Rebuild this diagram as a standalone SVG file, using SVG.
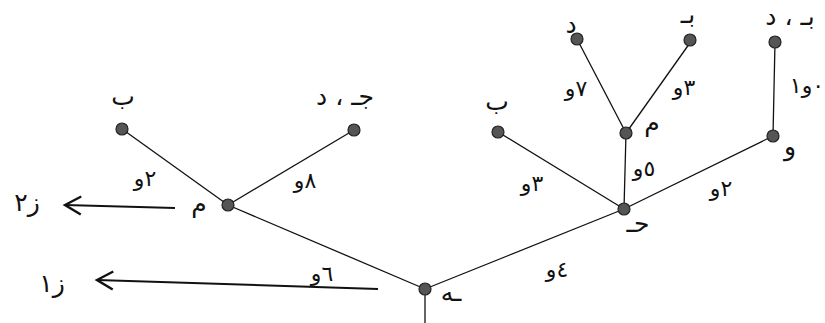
<svg xmlns="http://www.w3.org/2000/svg" width="825" height="323" viewBox="0 0 825 323">
<defs>
<style>
.e{stroke:#111;stroke-width:1.3;fill:none}
.a{stroke:#111;stroke-width:2;fill:none}
.n{fill:#555;stroke:#222;stroke-width:1.2}
text{font-family:"DejaVu Sans",sans-serif;fill:#111;text-anchor:middle}
.t{font-size:25px}
.w{font-size:22px}
</style>
<marker id="ah" markerUnits="userSpaceOnUse" markerWidth="24" markerHeight="24" refX="0" refY="0" viewBox="-16 -12 20 24" orient="auto">
<path d="M-16,-9 L0,0 L-16,9" stroke="#111" stroke-width="2.4" fill="none"/>
</marker>
</defs>
<rect width="825" height="323" fill="#fff"/>
<g id="connectors">
<line class="e" x1="425" y1="289" x2="425" y2="323"/>
<line class="e" x1="425" y1="289" x2="228" y2="205"/>
<line class="e" x1="228" y1="205" x2="122" y2="129"/>
<line class="e" x1="228" y1="205" x2="354" y2="130"/>
<line class="e" x1="425" y1="289" x2="624" y2="209"/>
<line class="e" x1="624" y1="209" x2="498" y2="132"/>
<line class="e" x1="624" y1="209" x2="626" y2="133"/>
<line class="e" x1="624" y1="209" x2="773" y2="136"/>
<line class="e" x1="626" y1="133" x2="577" y2="39"/>
<line class="e" x1="626" y1="133" x2="692" y2="40"/>
<line class="e" x1="773" y1="136" x2="775" y2="42"/>
<line class="a" x1="175" y1="208" x2="65" y2="205" marker-end="url(#ah)"/>
<line class="a" x1="378" y1="289" x2="97" y2="280" marker-end="url(#ah)"/>
</g>
<g id="node-h"><circle class="n" cx="425" cy="289" r="6"/><text class="t" x="451" y="301">ـه</text></g>
<g id="node-m-left"><circle class="n" cx="228" cy="205" r="6"/><text class="t" x="199" y="212" font-size="28">م</text></g>
<g id="node-b-left"><circle class="n" cx="122" cy="129" r="6"/><text class="t" x="123" y="105">ب</text></g>
<g id="node-jd"><circle class="n" cx="354" cy="130" r="6"/><text class="t" x="345" y="105">جـ ، د</text></g>
<g id="node-h2"><circle class="n" cx="624" cy="209" r="6"/><text class="t" x="638" y="232">حـ</text></g>
<g id="node-b-mid"><circle class="n" cx="498" cy="132" r="6"/><text class="t" x="497" y="110">ب</text></g>
<g id="node-m-top"><circle class="n" cx="626" cy="133" r="6"/><text class="t" x="652" y="131" font-size="28">م</text></g>
<g id="node-d"><circle class="n" cx="577" cy="39" r="6"/><text class="t" x="571" y="33">د</text></g>
<g id="node-b-top"><circle class="n" cx="690" cy="40" r="6"/><text class="t" x="688" y="23" font-size="22">بـ</text></g>
<g id="node-w"><circle class="n" cx="773" cy="136" r="6"/><text class="t" x="790" y="155">و</text></g>
<g id="node-bd"><circle class="n" cx="775" cy="42" r="6"/><text class="t" x="790" y="25" font-size="22">بـ ، د</text></g>
<g id="labels">
<text class="w" x="145" y="186">٢و</text>
<text class="w" x="305" y="188">٨و</text>
<text class="w" x="322" y="281">٦و</text>
<text class="w" x="557" y="277">٤و</text>
<text class="w" x="532" y="191">٣و</text>
<text class="w" x="644" y="176">٥و</text>
<text class="w" x="721" y="196">٢و</text>
<text class="w" x="576" y="96">٧و</text>
<text class="w" x="684" y="95">٣و</text>
<text class="w" x="807" y="93">٠و١</text>
<text class="t" x="27" y="211" font-size="26">ز٢</text>
<text class="t" x="52" y="292" font-size="32">ز١</text>
</g>
</svg>
